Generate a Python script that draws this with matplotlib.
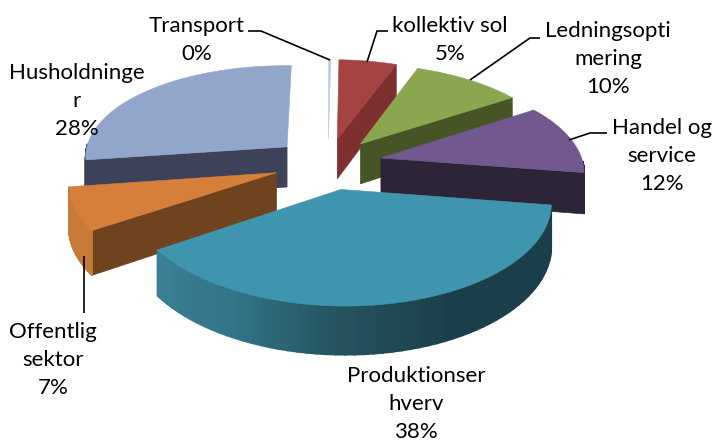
import numpy as np
import matplotlib
matplotlib.use("Agg")
import matplotlib.pyplot as plt
from matplotlib.colors import LinearSegmentedColormap

plt.rcParams['font.family'] = ['Lato', 'DejaVu Sans']

# clockwise from 12 o'clock
names = ['kollektiv sol', 'Ledningsopti\nmering', 'Handel og\nservice',
         'Produktionser\nhverv', 'Offentlig\nsektor', 'Husholdninge\nr', 'Transport']
values = [5.2, 10, 11.8, 38.4, 7, 27.6, 0.2]

top_colors = ['#a54343', '#8aa64f', '#71588f', '#4095ae', '#d67f3a', '#92a6cc', '#b9cbe4']
side_colors = ['#7e3030', '#475426', '#2d2438', '#1b3f4a', '#6f431d', '#3c4358', '#dfe6f1']
rim_colors = ['#7e3030', '#475426', '#2d2438', None, '#c67a37', '#3c4358', '#dfe6f1']
draw_order = [0, 1, 2, 6, 5, 4, 3]
# which cut face shows: 1 = end edge, 0 = start edge
cut_face = [1, 1, 1, None, 0, 0, None]

label_x = [450, 608, 662, 416, 53, 77, 197]
label_y = [40, 59, 156, 404, 360, 101, 40]
leaders = [[(388, 31), (377, 31), (367, 62)],
           [(540, 38), (530, 38), (470, 80)],
           [(607, 133), (590, 133), (569, 140)],
           None,
           [(84, 313), (84, 256)],
           None,
           [(248, 31), (261, 31), (330, 60)]]

cx, cy = 328, 163.5
R, Q = 203, 95
k_x, k_y = 0.11, 0.125
E = 0.27
D = 41
skew_x, skew_y = 2.5, 3

teal_rim = LinearSegmentedColormap.from_list(
    'teal', [(0, '#3a8096'), (0.2, '#337488'), (0.39, '#24535f'), (0.6, '#1b3f4a'), (1, '#1b3f4a')])


def project(X, Y, z=0.0):
    sx = 1 / (1 + k_x * Y)
    sy = 1 / (1 + k_y * Y)
    return cx + R * X * sx + skew_x * Y, cy - Q * Y * sy + skew_y * X + D * z * sy


def rim_points(a, ox, oy, z=0.0):
    r = np.radians(a)
    return project(ox + np.sin(r), oy + np.cos(r), z)


fig = plt.figure(figsize=(7.14, 4.41), dpi=100)
ax = fig.add_axes([0, 0, 1, 1])
ax.set_xlim(0, 714)
ax.set_ylim(441, 0)
ax.axis('off')

edges = np.cumsum([0] + values) / np.sum(values) * 360

for i in draw_order:
    a0, a1 = edges[i], edges[i + 1]
    mid = np.radians((a0 + a1) / 2)
    ox, oy = E * np.sin(mid), E * np.cos(mid)
    apex = project(ox, oy)
    apex_low = project(ox, oy, 1)

    # cut face
    if cut_face[i] is not None:
        a = a1 if cut_face[i] == 1 else a0
        p = rim_points(a, ox, oy)
        q = rim_points(a, ox, oy, 1)
        ax.fill([apex[0], p[0], q[0], apex_low[0]], [apex[1], p[1], q[1], apex_low[1]],
                color=side_colors[i], lw=0.5, zorder=2)

    # outer wall, only the part facing us
    lo, hi = max(a0, 90), min(a1, 270)
    if hi > lo:
        steps = np.linspace(lo, hi, 60)
        for j in range(len(steps) - 1):
            p0 = rim_points(steps[j], ox, oy)
            p1 = rim_points(steps[j + 1], ox, oy)
            q1 = rim_points(steps[j + 1], ox, oy, 1)
            q0 = rim_points(steps[j], ox, oy, 1)
            if rim_colors[i] is None:
                c = teal_rim(1 - (j + 0.5) / (len(steps) - 1))
            else:
                c = rim_colors[i]
            ax.fill([p0[0], p1[0], q1[0], q0[0]], [p0[1], p1[1], q1[1], q0[1]],
                    color=c, lw=1.2, zorder=2)

    # top
    arc = np.linspace(a0, a1, 120)
    px, py = rim_points(arc, ox, oy)
    ax.fill(np.r_[apex[0], px], np.r_[apex[1], py], color=top_colors[i], lw=0.4, zorder=2)

for i in range(len(names)):
    txt = '{}\n{:.0f}%'.format(names[i], values[i])
    ax.text(label_x[i], label_y[i], txt, ha='center', va='center', fontsize=16,
            linespacing=1.5, color='#000000', zorder=5)
    if leaders[i] is not None:
        xs, ys = zip(*leaders[i])
        ax.plot(xs, ys, color='black', lw=1.2, zorder=4, solid_capstyle='butt')

fig.savefig('out.png', dpi=100)
